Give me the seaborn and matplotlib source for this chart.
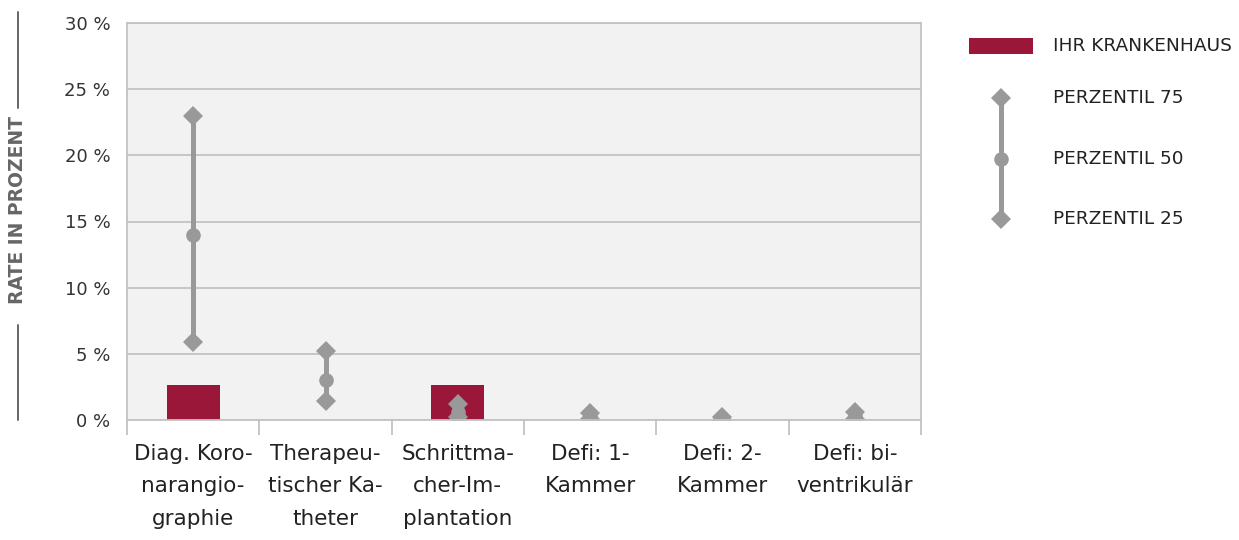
import matplotlib
matplotlib.use("Agg")
import matplotlib.pyplot as plt
from matplotlib.lines import Line2D
from matplotlib.patches import Rectangle
import numpy as np
import seaborn as sns

# values (rates in percent)
categories = [
    "Diag. Koro-\nnarangio-\ngraphie",
    "Therapeu-\ntischer Ka-\ntheter",
    "Schrittma-\ncher-Im-\nplantation",
    "Defi: 1-\nKammer",
    "Defi: 2-\nKammer",
    "Defi: bi-\nventrikulär",
]
hospital = [2.65, 0.0, 2.65, 0.0, 0.0, 0.0]
p75 = [23.0, 5.2, 1.2, 0.5, 0.2, 0.6]
p50 = [14.0, 3.0, 0.6, 0.3, 0.1, 0.3]
p25 = [5.9, 1.4, 0.2, 0.1, 0.0, 0.1]
yticks = [0, 5, 10, 15, 20, 25, 30]

RED = "#9b1739"
GREY = "#999999"
LINE = "#c3c3c3"
BG = "#f2f2f2"

W, H = 1239, 540
sns.set_theme(style="white")
plt.rcParams["font.family"] = ["DejaVu Sans"]

fig = plt.figure(figsize=(W / 100, H / 100), dpi=100)
ax = fig.add_axes([127 / W, 1 - 420 / H, (921 - 127) / W, (420 - 23) / H])
ax.set_facecolor(BG)

sns.barplot(x=categories, y=hospital, order=categories, color=RED,
            saturation=1, width=0.4, linewidth=0, ax=ax, zorder=2)

xpos = np.arange(len(categories))
ax.vlines(xpos, p25, p75, color=GREY, linewidth=3.6, zorder=3)
ax.plot(xpos, p75, linestyle="none", marker="D", markersize=10,
        color=GREY, markeredgewidth=0, zorder=3)
ax.plot(xpos, p50, linestyle="none", marker="o", markersize=10.5,
        color=GREY, markeredgewidth=0, zorder=3)
ax.plot(xpos, p25, linestyle="none", marker="D", markersize=10,
        color=GREY, markeredgewidth=0, zorder=3)

ax.set_xlim(-0.5, len(categories) - 0.5)
ax.set_ylim(0, 30)
ax.set_yticks(yticks)
ax.set_yticklabels([f"{v} %" for v in yticks])
ax.set_axisbelow(True)
ax.yaxis.grid(True, color=LINE, linewidth=1.3)
ax.xaxis.grid(False)
for s in ax.spines.values():
    s.set_color(LINE)
    s.set_linewidth(1.3)
    s.set_zorder(4)

ax.set_xticks(xpos)
ax.set_xticks(np.arange(-0.5, len(categories), 1.0), minor=True)
ax.tick_params(axis="x", which="major", length=0, pad=17, labelsize=15.5,
               labelcolor="#222222")
ax.tick_params(axis="x", which="minor", length=11, width=1.3, color=LINE,
               direction="out", bottom=True)
ax.tick_params(axis="y", length=0, pad=12, labelsize=13, labelcolor="#333333")
for lbl in ax.get_xticklabels():
    lbl.set_linespacing(1.8)
ax.set_xlabel("")
ax.set_ylabel("")

# vertical y-axis title with rules above and below
fig.text(18 / W, 1 - 210 / H, "RATE IN PROZENT", rotation=90, ha="center",
         va="center", fontsize=13.5, fontweight="semibold", color="#666666")
fig.add_artist(Line2D([18 / W, 18 / W], [1 - 12 / H, 1 - 108 / H],
                      color="#666666", linewidth=1.4))
fig.add_artist(Line2D([18 / W, 18 / W], [1 - 325 / H, 1 - 420 / H],
                      color="#666666", linewidth=1.4))

# legend drawn on an overlay in pixel units
lax = fig.add_axes([0, 0, 1, 1])
lax.set_xlim(0, W)
lax.set_ylim(H, 0)
lax.axis("off")
lax.add_patch(Rectangle((969, 38), 64, 16, color=RED, linewidth=0))
lax.plot([1001, 1001], [98, 219], color=GREY, linewidth=3.6)
lax.plot([1001, 1001], [98, 219], linestyle="none", marker="D",
         markersize=10, color=GREY, markeredgewidth=0)
lax.plot([1001], [159], marker="o", markersize=10.5, color=GREY,
         markeredgewidth=0)
legend_text = ["IHR KRANKENHAUS", "PERZENTIL 75", "PERZENTIL 50", "PERZENTIL 25"]
for txt, yy in zip(legend_text, [46, 98, 159, 219]):
    lax.text(1053, yy, txt, fontsize=13.3, color="#222222", va="center", ha="left")

fig.savefig("out.png", dpi=100, facecolor="white")
